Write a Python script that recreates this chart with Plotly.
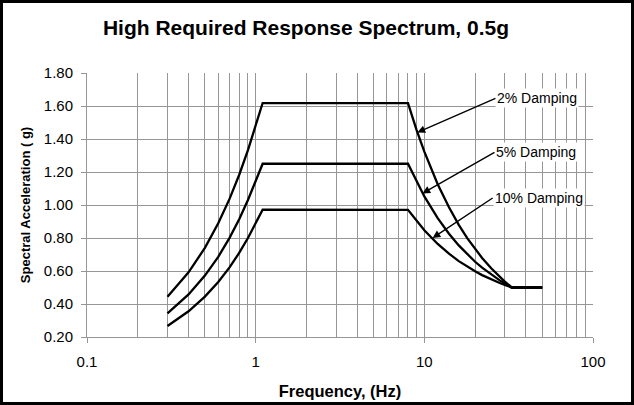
import math
import plotly.graph_objects as go

# Required response spectrum, 0.5 g ZPA, for three damping ratios
freq_hz = [0.3, 0.4, 0.5, 0.6, 0.7, 0.8, 0.9, 1.0, 1.1,
           8, 9, 10, 12, 14, 16, 18, 20, 22, 25, 28, 30, 33, 50]

sa_2pct = [0.444, 0.592, 0.740, 0.889, 1.037, 1.185, 1.333, 1.481, 1.618,
           1.618, 1.454, 1.323, 1.126, 0.986, 0.880, 0.798, 0.733, 0.679, 0.615, 0.564, 0.536, 0.500, 0.500]
sa_5pct = [0.343, 0.458, 0.572, 0.686, 0.801, 0.915, 1.030, 1.144, 1.250,
           1.250, 1.140, 1.052, 0.920, 0.826, 0.755, 0.700, 0.656, 0.620, 0.577, 0.543, 0.524, 0.500, 0.500]
sa_10pct = [0.267, 0.356, 0.445, 0.533, 0.622, 0.711, 0.800, 0.889, 0.972,
            0.971, 0.902, 0.847, 0.764, 0.705, 0.660, 0.626, 0.598, 0.575, 0.548, 0.527, 0.515, 0.500, 0.500]

series_names = ["2% Damping", "5% Damping", "10% Damping"]
series_values = [sa_2pct, sa_5pct, sa_10pct]

# where each label's arrow lands on its curve (Hz, g) and the label offset (px)
arrow_tip_hz = [9.1, 9.75, 11.2]
arrow_tip_g = [1.44, 1.07, 0.80]
label_offset_px = [(78, -34), (72, -41), (60, -40)]

y_tick_vals = [0.2, 0.4, 0.6, 0.8, 1.0, 1.2, 1.4, 1.6, 1.8]
x_major = [0.1, 1, 10, 100]
x_minor = [m * d for d in (0.1, 1, 10) for m in range(2, 10)]

W, H = 634, 405
ML, MR, MT, MB = 87, 41, 73, 68
GRID = "#969696"
FONT = "Liberation Sans, Arial, sans-serif"

fig = go.Figure()
for name, vals in zip(series_names, series_values):
    fig.add_trace(go.Scatter(
        x=freq_hz, y=vals, mode="lines", name=name,
        line=dict(color="black", width=2.3),
        showlegend=False, hoverinfo="skip",
    ))

annotations = []
for name, fx, gy, (ax, ay) in zip(series_names, arrow_tip_hz, arrow_tip_g, label_offset_px):
    annotations.append(dict(
        x=math.log10(fx), y=gy, xref="x", yref="y",
        text=name, showarrow=True, ax=ax, ay=ay,
        xanchor="left", yanchor="middle",
        font=dict(family=FONT, size=14, color="black"),
        bgcolor="white", borderpad=1,
        arrowhead=2, arrowsize=1.1, arrowwidth=1.4, arrowcolor="black",
    ))

# outer frame around the whole chart
pw = W - ML - MR
ph = H - MT - MB
frame = dict(
    type="rect", xref="paper", yref="paper",
    x0=-(ML - 1.5) / pw, x1=1 + (MR - 1.5) / pw,
    y0=-(MB - 1.5) / ph, y1=1 + (MT - 1.5) / ph,
    line=dict(color="black", width=3), fillcolor="rgba(0,0,0,0)", layer="above",
)

fig.update_layout(
    width=W, height=H,
    margin=dict(l=ML, r=MR, t=MT, b=MB, autoexpand=False),
    paper_bgcolor="white", plot_bgcolor="white",
    font=dict(family=FONT, color="black"),
    title=dict(
        text="<b>High Required Response Spectrum, 0.5g</b>",
        x=306 / W, xref="container", xanchor="center",
        y=1 - 28 / H, yref="container", yanchor="middle",
        font=dict(size=21, color="black"),
    ),
    xaxis=dict(
        type="log", range=[-1, 2], automargin=False,
        tickvals=x_major, ticktext=["0.1", "1", "10", "100"],
        ticks="outside", ticklen=5, tickcolor=GRID, tickwidth=1,
        ticklabelstandoff=6,
        showgrid=True, gridcolor=GRID, gridwidth=1,
        minor=dict(tickmode="array", tickvals=x_minor, showgrid=True,
                   gridcolor=GRID, gridwidth=1, ticks=""),
        showline=True, linecolor=GRID, linewidth=1,
        tickfont=dict(size=15),
        title=dict(text="<b>Frequency, (Hz)</b>", font=dict(size=16.5), standoff=16),
        zeroline=False,
    ),
    yaxis=dict(
        range=[0.2, 1.8], automargin=False,
        tickvals=y_tick_vals, tickformat=".2f",
        ticks="outside", ticklen=5, tickcolor=GRID, tickwidth=1,
        ticklabelstandoff=5,
        showgrid=True, gridcolor=GRID, gridwidth=1,
        showline=True, linecolor=GRID, linewidth=1,
        tickfont=dict(size=15),
        title=dict(text="<b>Spectral Acceleration ( g)</b>", font=dict(size=13), standoff=10),
        zeroline=False,
    ),
    annotations=annotations,
    shapes=[frame],
)

fig.write_html("out.html")
